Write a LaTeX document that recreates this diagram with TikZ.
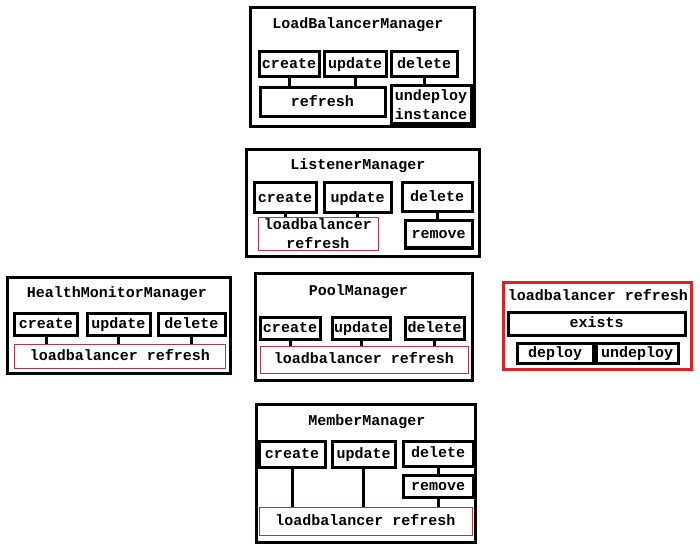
\documentclass[tikz,border=0pt]{standalone}
\usepackage{fontspec}
\setmonofont{Liberation Mono}
\definecolor{lbred}{RGB}{175,55,70}
\definecolor{hotred}{RGB}{222,32,42}
\begin{document}
\begin{tikzpicture}[x=1bp,y=-1bp,
  every node/.style={font=\ttfamily\bfseries\fontsize{15bp}{19bp}\selectfont, inner sep=0pt},
  sz/.style 2 args={minimum width=#1bp, minimum height=#2bp},
  oneline/.style={text height=11.5bp, text depth=3bp},
  frame/.style={draw, line width=3bp},
  opbox/.style={draw, line width=3bp, oneline},
  opbox2/.style={draw, line width=3bp, align=center},
  lbbox/.style={draw=lbred, line width=1bp, oneline},
  lbbox2/.style={draw=lbred, line width=1bp, align=center},
  redframe/.style={draw=hotred, line width=3bp},
  title/.style={oneline},
  link/.style={line width=3bp}]
\useasboundingbox (0,0) rectangle (700,552);

% LoadBalancerManager
\node[frame, sz={224}{119}] (lbm) at (362,67.5) {};
\node[title] (lbmt) at (358,24) {LoadBalancerManager};
\node[opbox, sz={60}{25}] (lbc) at (289,64.5) {create};
\node[opbox, sz={62}{25}] (lbu) at (355,64.5) {update};
\node[opbox, sz={66}{25}] (lbd) at (424,64.5) {delete};
\node[opbox, sz={125}{29}] (lbr) at (322.5,102.5) {refresh};
\node[opbox2, sz={80}{38}] (lbi) at (431,104.5) {undeploy\\instance};
\draw[link] (lbc.south) -- (lbc.south |- lbr.north);
\draw[link] (lbu.south) -- (lbu.south |- lbr.north);
\draw[link] (lbd.south) -- (lbd.south |- lbi.north);

% ListenerManager
\node[frame, sz={233}{106}] (lm) at (362.5,203) {};
\node[title] (lmt) at (358,165) {ListenerManager};
\node[opbox, sz={62}{30}] (lmc) at (285,198) {create};
\node[opbox, sz={67}{30}] (lmu) at (357.5,198) {update};
\node[opbox, sz={70}{29}] (lmd) at (437,197.5) {delete};
\node[opbox, sz={67}{27}] (lmr) at (438.5,234.5) {remove};
\node[lbbox2, sz={120}{33}] (lml) at (318,234) {loadbalancer\\refresh};
\draw[link] (lmc.south) -- (lmc.south |- lml.north);
\draw[link] (lmu.south) -- (lmu.south |- lml.north);
\draw[link] (lmd.south) -- (lmd.south |- lmr.north);

% HealthMonitorManager
\node[frame, sz={222}{95}] (hm) at (119,325.5) {};
\node[title] (hmt) at (117,293) {HealthMonitorManager};
\node[opbox, sz={62}{22}] (hmc) at (46,324) {create};
\node[opbox, sz={63}{22}] (hmu) at (118.5,324) {update};
\node[opbox, sz={67}{22}] (hmd) at (191.5,324) {delete};
\node[lbbox, sz={210}{24}] (hml) at (120,356) {loadbalancer refresh};
\draw[link] (hmc.south) -- (hmc.south |- hml.north);
\draw[link] (hmu.south) -- (hmu.south |- hml.north);
\draw[link] (hmd.south) -- (hmd.south |- hml.north);

% PoolManager
\node[frame, sz={217}{106}] (pm) at (363.5,327) {};
\node[title] (pmt) at (358.5,291) {PoolManager};
\node[opbox, sz={60}{22}] (pmc) at (290,328) {create};
\node[opbox, sz={58}{22}] (pmu) at (361,328) {update};
\node[opbox, sz={59}{22}] (pmd) at (434.5,328) {delete};
\node[lbbox, sz={208}{27}] (pml) at (364,359.5) {loadbalancer refresh};
\draw[link] (pmc.south) -- (pmc.south |- pml.north);
\draw[link] (pmu.south) -- (pmu.south |- pml.north);
\draw[link] (pmd.south) -- (pmd.south |- pml.north);

% MemberManager
\node[frame, sz={219}{138}] (mm) at (365.5,473) {};
\node[title] (mmt) at (367,421) {MemberManager};
\node[opbox, sz={66}{26}] (mmc) at (292,454) {create};
\node[opbox, sz={63}{26}] (mmu) at (363.5,454) {update};
\node[opbox, sz={70}{25}] (mmd) at (438,453.5) {delete};
\node[opbox, sz={70}{22}] (mmr) at (438,486) {remove};
\node[lbbox, sz={213}{28}] (mml) at (365.5,521) {loadbalancer refresh};
\draw[link] (mmc.south) -- (mmc.south |- mml.north);
\draw[link] (mmu.south) -- (mmu.south |- mml.north);
\draw[link] (mmd.south) -- (mmr.north);
\draw[link] (mmr.south) -- (mmr.south |- mml.north);

% loadbalancer refresh
\node[redframe, sz={188}{86}] (lr) at (597,326) {};
\node[title] (lrt) at (598,296) {loadbalancer refresh};
\node[opbox, sz={177}{23}] (lre) at (596.5,323.5) {exists};
\node[opbox, sz={76}{20}] (lrd) at (555,353) {deploy};
\node[opbox, sz={82}{20}] (lru) at (637,353) {undeploy};
\end{tikzpicture}
\end{document}
